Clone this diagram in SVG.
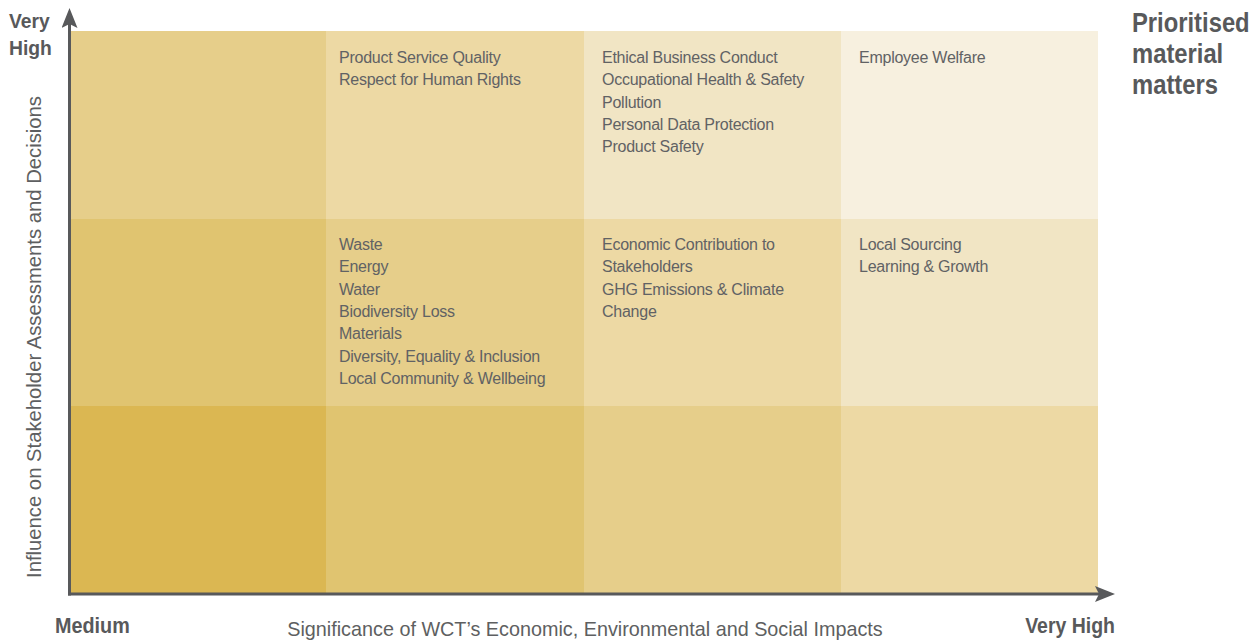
<svg xmlns="http://www.w3.org/2000/svg" width="1253" height="640" viewBox="0 0 1253 640">
<style>
.cell{shape-rendering:crispEdges}
.d0{fill:#DBB752}.d1{fill:#E0C470}.d2{fill:#E6CE8A}.d3{fill:#EDD9A4}.d4{fill:#F1E5C4}.d5{fill:#F7F0DF}
.t{font-family:"Liberation Sans",Arial,sans-serif;font-size:16px;letter-spacing:-0.25px;fill:#616264}
.ax{font-family:"Liberation Sans",Arial,sans-serif;font-size:19.8px;fill:#5E5F61}
.b{font-family:"Liberation Sans",Arial,sans-serif;font-weight:bold;fill:#58595B}
.axis{stroke:#58595B;stroke-width:3;fill:none}
</style>
<defs>
<marker id="arr" viewBox="0 0 20 16" refX="4" refY="8" markerWidth="20" markerHeight="16" markerUnits="userSpaceOnUse" orient="auto">
<path d="M0,0 L20,8 L0,16 L4,8 Z" fill="#58595B"/>
</marker>
</defs>
<g id="grid">
<rect id="c00" class="cell d2" x="71" y="31" width="255" height="188"/>
<rect id="c01" class="cell d3" x="326" y="31" width="258" height="188"/>
<rect id="c02" class="cell d4" x="584" y="31" width="257" height="188"/>
<rect id="c03" class="cell d5" x="841" y="31" width="257" height="188"/>
<rect id="c10" class="cell d1" x="71" y="219" width="255" height="187"/>
<rect id="c11" class="cell d2" x="326" y="219" width="258" height="187"/>
<rect id="c12" class="cell d3" x="584" y="219" width="257" height="187"/>
<rect id="c13" class="cell d4" x="841" y="219" width="257" height="187"/>
<rect id="c20" class="cell d0" x="71" y="406" width="255" height="187"/>
<rect id="c21" class="cell d1" x="326" y="406" width="258" height="187"/>
<rect id="c22" class="cell d2" x="584" y="406" width="257" height="187"/>
<rect id="c23" class="cell d3" x="841" y="406" width="257" height="187"/>
</g>
<g id="n01" class="t">
<text x="339" y="63">Product Service Quality</text>
<text x="339" y="85.3">Respect for Human Rights</text>
</g>
<g id="n02" class="t">
<text x="602" y="63">Ethical Business Conduct</text>
<text x="602" y="85.3">Occupational Health &amp; Safety</text>
<text x="602" y="107.6">Pollution</text>
<text x="602" y="129.9">Personal Data Protection</text>
<text x="602" y="152.2">Product Safety</text>
</g>
<g id="n03" class="t">
<text x="859" y="63">Employee Welfare</text>
</g>
<g id="n11" class="t">
<text x="339" y="250">Waste</text>
<text x="339" y="272.3">Energy</text>
<text x="339" y="294.6">Water</text>
<text x="339" y="316.9">Biodiversity Loss</text>
<text x="339" y="339.2">Materials</text>
<text x="339" y="361.5">Diversity, Equality &amp; Inclusion</text>
<text x="339" y="383.8">Local Community &amp; Wellbeing</text>
</g>
<g id="n12" class="t">
<text x="602" y="250">Economic Contribution to</text>
<text x="602" y="272.3">Stakeholders</text>
<text x="602" y="294.6">GHG Emissions &amp; Climate</text>
<text x="602" y="316.9">Change</text>
</g>
<g id="n13" class="t">
<text x="859" y="250">Local Sourcing</text>
<text x="859" y="272.3">Learning &amp; Growth</text>
</g>
<g id="connectors">
<line class="axis" x1="69.5" y1="595.5" x2="69.5" y2="24" marker-end="url(#arr)"/>
<line class="axis" x1="68" y1="594" x2="1099" y2="594" marker-end="url(#arr)"/>
</g>
<g id="labels">
<text class="b" font-size="21" transform="translate(9,28) scale(0.92,1)">Very</text>
<text class="b" font-size="21" transform="translate(9,55) scale(0.92,1)">High</text>
<text class="b" font-size="22" transform="translate(55,633) scale(0.9,1)">Medium</text>
<text class="b" font-size="22" text-anchor="end" transform="translate(1115,633) scale(0.886,1)">Very High</text>
<text class="b" font-size="28" transform="translate(1132,32) scale(0.85,1)">Prioritised</text>
<text class="b" font-size="28" transform="translate(1132,63) scale(0.85,1)">material</text>
<text class="b" font-size="28" transform="translate(1132,94) scale(0.85,1)">matters</text>
<text class="ax" text-anchor="middle" x="585" y="636">Significance of WCT’s Economic, Environmental and Social Impacts</text>
<text class="ax" text-anchor="middle" transform="translate(41,337) rotate(-90)" textLength="482" lengthAdjust="spacingAndGlyphs">Influence on Stakeholder Assessments and Decisions</text>
</g>
</svg>
